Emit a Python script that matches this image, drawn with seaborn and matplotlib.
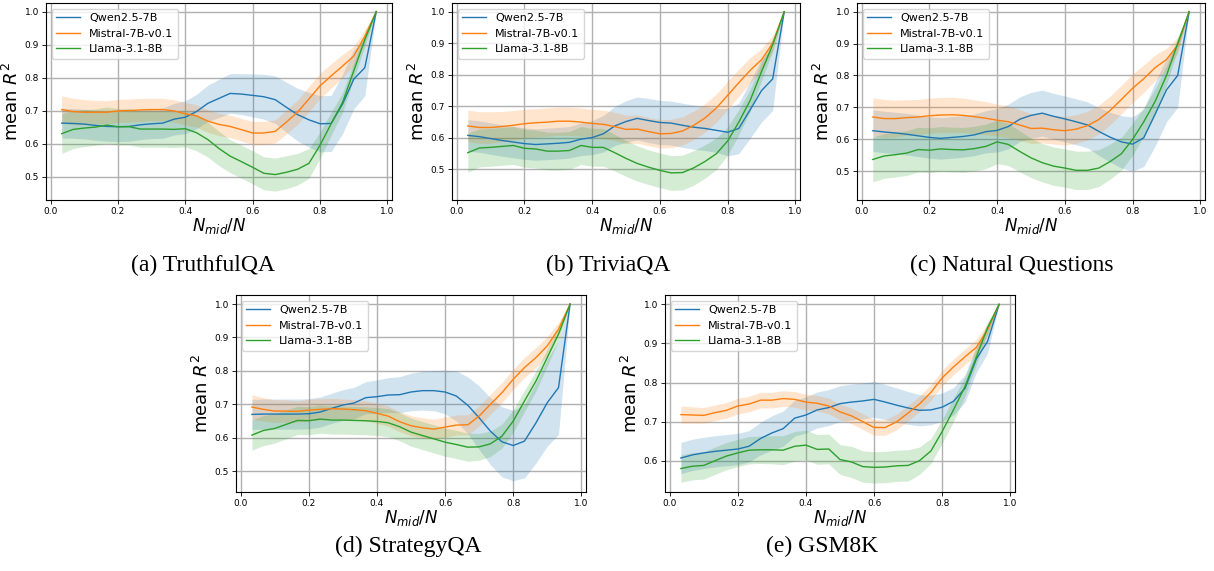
import matplotlib
matplotlib.use('Agg')
import matplotlib.pyplot as plt
import pandas as pd
import seaborn as sns

# ------------------------------------------------------------
# data: mean R^2 and std per N_mid/N, for each dataset / model
# ------------------------------------------------------------
x_ratio = [0.033, 0.067, 0.1, 0.133, 0.167, 0.2, 0.233, 0.267, 0.3, 0.333,
           0.367, 0.4, 0.433, 0.467, 0.5, 0.533, 0.567, 0.6, 0.633, 0.667,
           0.7, 0.733, 0.767, 0.8, 0.833, 0.867, 0.9, 0.933, 0.967]

models = ['Qwen2.5-7B', 'Mistral-7B-v0.1', 'Llama-3.1-8B']
colors = ['#1f77b4', '#ff7f0e', '#2ca02c']

# (a) TruthfulQA
tqa_qwen = [0.662, 0.661, 0.659, 0.655, 0.652, 0.651, 0.652, 0.657, 0.660, 0.662, 0.674, 0.680, 0.697, 0.722, 0.737,
            0.752, 0.750, 0.746, 0.742, 0.733, 0.710, 0.688, 0.672, 0.660, 0.661, 0.720, 0.795, 0.830, 1.0]
tqa_qwen_sd = [0.045, 0.045, 0.045, 0.045, 0.045, 0.045, 0.045, 0.045, 0.045, 0.046, 0.048, 0.050, 0.052, 0.055, 0.058,
               0.060, 0.062, 0.065, 0.068, 0.072, 0.076, 0.080, 0.083, 0.085, 0.085, 0.090, 0.090, 0.085, 0.0]
tqa_mistral = [0.703, 0.697, 0.695, 0.695, 0.695, 0.699, 0.700, 0.702, 0.703, 0.703, 0.699, 0.690, 0.684, 0.668, 0.658,
               0.652, 0.642, 0.632, 0.632, 0.637, 0.665, 0.695, 0.735, 0.775, 0.805, 0.835, 0.865, 0.925, 1.0]
tqa_mistral_sd = [0.042, 0.040, 0.038, 0.036, 0.035, 0.035, 0.035, 0.035, 0.034, 0.034, 0.034, 0.034, 0.034, 0.034, 0.034,
                  0.034, 0.034, 0.035, 0.035, 0.035, 0.036, 0.037, 0.038, 0.038, 0.037, 0.035, 0.030, 0.020, 0.0]
tqa_llama = [0.630, 0.643, 0.647, 0.650, 0.656, 0.651, 0.651, 0.644, 0.644, 0.644, 0.643, 0.645, 0.633, 0.612, 0.585,
             0.562, 0.545, 0.528, 0.510, 0.506, 0.513, 0.522, 0.540, 0.595, 0.660, 0.725, 0.820, 0.915, 1.0]
tqa_llama_sd = [0.060, 0.058, 0.056, 0.055, 0.055, 0.055, 0.055, 0.055, 0.055, 0.055, 0.055, 0.055, 0.055, 0.053, 0.052,
                0.050, 0.050, 0.050, 0.050, 0.050, 0.050, 0.048, 0.045, 0.040, 0.035, 0.030, 0.025, 0.020, 0.0]

# (b) TriviaQA
triv_qwen = [0.608, 0.604, 0.598, 0.592, 0.587, 0.582, 0.579, 0.581, 0.583, 0.586, 0.596, 0.601, 0.613, 0.638, 0.652,
             0.662, 0.655, 0.649, 0.647, 0.640, 0.634, 0.630, 0.624, 0.618, 0.630, 0.690, 0.750, 0.787, 1.0]
triv_qwen_sd = [0.050, 0.050, 0.050, 0.050, 0.050, 0.050, 0.050, 0.050, 0.050, 0.050, 0.052, 0.054, 0.058, 0.062, 0.066,
                0.068, 0.070, 0.070, 0.070, 0.070, 0.070, 0.070, 0.070, 0.075, 0.080, 0.090, 0.100, 0.100, 0.0]
triv_mistral = [0.638, 0.633, 0.633, 0.636, 0.640, 0.645, 0.648, 0.650, 0.653, 0.653, 0.650, 0.646, 0.643, 0.636, 0.627,
                0.628, 0.620, 0.613, 0.614, 0.622, 0.640, 0.663, 0.695, 0.735, 0.775, 0.815, 0.848, 0.900, 1.0]
triv_mistral_sd = [0.050, 0.050, 0.050, 0.048, 0.047, 0.046, 0.045, 0.045, 0.045, 0.045, 0.045, 0.045, 0.045, 0.045, 0.045,
                   0.045, 0.045, 0.045, 0.045, 0.045, 0.045, 0.045, 0.045, 0.045, 0.043, 0.040, 0.035, 0.025, 0.0]
triv_llama = [0.553, 0.568, 0.570, 0.573, 0.576, 0.567, 0.565, 0.558, 0.558, 0.560, 0.576, 0.570, 0.570, 0.553, 0.535,
              0.519, 0.507, 0.497, 0.489, 0.490, 0.505, 0.525, 0.550, 0.590, 0.650, 0.720, 0.810, 0.895, 1.0]
triv_llama_sd = [0.062, 0.060, 0.060, 0.060, 0.060, 0.060, 0.060, 0.060, 0.060, 0.060, 0.060, 0.060, 0.060, 0.058, 0.057,
                 0.056, 0.055, 0.055, 0.055, 0.055, 0.055, 0.053, 0.050, 0.045, 0.040, 0.035, 0.030, 0.020, 0.0]

# (c) Natural Questions
nq_qwen = [0.627, 0.623, 0.620, 0.616, 0.611, 0.606, 0.603, 0.606, 0.609, 0.614, 0.624, 0.628, 0.640, 0.663, 0.675,
           0.682, 0.672, 0.664, 0.655, 0.645, 0.625, 0.607, 0.592, 0.585, 0.605, 0.680, 0.755, 0.800, 1.0]
nq_qwen_sd = [0.065, 0.065, 0.065, 0.065, 0.065, 0.065, 0.065, 0.065, 0.065, 0.065, 0.066, 0.068, 0.070, 0.070, 0.072,
              0.072, 0.072, 0.072, 0.072, 0.072, 0.075, 0.078, 0.082, 0.085, 0.090, 0.100, 0.100, 0.100, 0.0]
nq_mistral = [0.670, 0.665, 0.665, 0.668, 0.670, 0.674, 0.676, 0.677, 0.675, 0.671, 0.666, 0.660, 0.655, 0.645, 0.634,
              0.635, 0.630, 0.627, 0.632, 0.643, 0.662, 0.690, 0.725, 0.760, 0.790, 0.825, 0.850, 0.895, 1.0]
nq_mistral_sd = [0.060, 0.060, 0.058, 0.056, 0.055, 0.055, 0.055, 0.055, 0.054, 0.053, 0.052, 0.050, 0.050, 0.048, 0.047,
                 0.046, 0.045, 0.045, 0.045, 0.045, 0.045, 0.045, 0.045, 0.045, 0.043, 0.040, 0.035, 0.025, 0.0]
nq_llama = [0.537, 0.548, 0.552, 0.557, 0.568, 0.566, 0.570, 0.568, 0.567, 0.571, 0.578, 0.592, 0.584, 0.562, 0.542,
            0.527, 0.516, 0.510, 0.503, 0.503, 0.510, 0.530, 0.555, 0.600, 0.655, 0.720, 0.800, 0.900, 1.0]
nq_llama_sd = [0.070, 0.070, 0.070, 0.070, 0.070, 0.070, 0.070, 0.070, 0.070, 0.070, 0.070, 0.068, 0.066, 0.064, 0.062,
               0.060, 0.060, 0.060, 0.060, 0.060, 0.058, 0.055, 0.052, 0.050, 0.045, 0.040, 0.030, 0.020, 0.0]

# (d) StrategyQA
sqa_qwen = [0.670, 0.671, 0.671, 0.671, 0.671, 0.672, 0.677, 0.688, 0.698, 0.704, 0.720, 0.723, 0.728, 0.729, 0.737,
            0.741, 0.741, 0.737, 0.725, 0.697, 0.660, 0.620, 0.588, 0.577, 0.590, 0.645, 0.705, 0.750, 1.0]
sqa_qwen_sd = [0.045, 0.045, 0.045, 0.045, 0.045, 0.045, 0.045, 0.045, 0.046, 0.047, 0.048, 0.050, 0.052, 0.054, 0.056,
               0.058, 0.060, 0.065, 0.075, 0.085, 0.095, 0.100, 0.105, 0.105, 0.110, 0.120, 0.130, 0.140, 0.0]
sqa_mistral = [0.692, 0.685, 0.680, 0.680, 0.679, 0.683, 0.685, 0.687, 0.686, 0.684, 0.681, 0.673, 0.665, 0.648, 0.636,
               0.630, 0.626, 0.632, 0.638, 0.639, 0.665, 0.700, 0.735, 0.775, 0.810, 0.840, 0.875, 0.925, 1.0]
sqa_mistral_sd = [0.037, 0.035, 0.034, 0.033, 0.032, 0.032, 0.032, 0.031, 0.030, 0.030, 0.030, 0.030, 0.030, 0.030, 0.030,
                  0.030, 0.030, 0.030, 0.030, 0.030, 0.030, 0.030, 0.030, 0.030, 0.030, 0.030, 0.028, 0.020, 0.0]
sqa_llama = [0.608, 0.622, 0.628, 0.640, 0.652, 0.651, 0.656, 0.653, 0.653, 0.652, 0.651, 0.649, 0.645, 0.633, 0.617,
             0.607, 0.597, 0.587, 0.580, 0.572, 0.573, 0.582, 0.605, 0.650, 0.710, 0.770, 0.840, 0.910, 1.0]
sqa_llama_sd = [0.045, 0.045, 0.044, 0.043, 0.042, 0.042, 0.042, 0.042, 0.042, 0.042, 0.042, 0.042, 0.042, 0.042, 0.042,
                0.042, 0.042, 0.042, 0.042, 0.042, 0.040, 0.038, 0.036, 0.034, 0.032, 0.030, 0.025, 0.020, 0.0]

# (e) GSM8K
gsm_qwen = [0.607, 0.615, 0.620, 0.624, 0.627, 0.630, 0.637, 0.657, 0.671, 0.682, 0.709, 0.717, 0.730, 0.736, 0.746,
            0.750, 0.753, 0.757, 0.750, 0.742, 0.735, 0.729, 0.730, 0.737, 0.752, 0.785, 0.860, 0.905, 1.0]
gsm_qwen_sd = [0.040, 0.040, 0.040, 0.040, 0.040, 0.040, 0.040, 0.042, 0.044, 0.045, 0.046, 0.046, 0.046, 0.046, 0.046,
               0.046, 0.046, 0.046, 0.045, 0.044, 0.042, 0.040, 0.038, 0.036, 0.035, 0.035, 0.035, 0.030, 0.0]
gsm_mistral = [0.718, 0.717, 0.716, 0.723, 0.729, 0.740, 0.745, 0.755, 0.755, 0.759, 0.757, 0.750, 0.747, 0.740, 0.725,
               0.715, 0.700, 0.685, 0.685, 0.700, 0.722, 0.745, 0.775, 0.812, 0.840, 0.866, 0.890, 0.935, 1.0]
gsm_mistral_sd = [0.022, 0.021, 0.020, 0.020, 0.020, 0.020, 0.020, 0.020, 0.020, 0.020, 0.020, 0.020, 0.020, 0.020, 0.020,
                  0.020, 0.020, 0.020, 0.020, 0.020, 0.020, 0.020, 0.020, 0.020, 0.020, 0.020, 0.020, 0.015, 0.0]
gsm_llama = [0.580, 0.586, 0.588, 0.600, 0.612, 0.620, 0.627, 0.628, 0.628, 0.627, 0.637, 0.640, 0.629, 0.630, 0.603,
             0.597, 0.585, 0.583, 0.584, 0.587, 0.588, 0.600, 0.625, 0.675, 0.730, 0.790, 0.865, 0.940, 1.0]
gsm_llama_sd = [0.035, 0.035, 0.035, 0.035, 0.035, 0.035, 0.035, 0.035, 0.036, 0.037, 0.038, 0.038, 0.038, 0.038, 0.038,
                0.040, 0.040, 0.040, 0.040, 0.040, 0.040, 0.035, 0.032, 0.030, 0.030, 0.025, 0.020, 0.015, 0.0]

panels = [
    ('(a) TruthfulQA', [tqa_qwen, tqa_mistral, tqa_llama], [tqa_qwen_sd, tqa_mistral_sd, tqa_llama_sd]),
    ('(b) TriviaQA', [triv_qwen, triv_mistral, triv_llama], [triv_qwen_sd, triv_mistral_sd, triv_llama_sd]),
    ('(c) Natural Questions', [nq_qwen, nq_mistral, nq_llama], [nq_qwen_sd, nq_mistral_sd, nq_llama_sd]),
    ('(d) StrategyQA', [sqa_qwen, sqa_mistral, sqa_llama], [sqa_qwen_sd, sqa_mistral_sd, sqa_llama_sd]),
    ('(e) GSM8K', [gsm_qwen, gsm_mistral, gsm_llama], [gsm_qwen_sd, gsm_mistral_sd, gsm_llama_sd]),
]

# ------------------------------------------------------------
# layout (pixel boxes of the 1214x571 figure)
# ------------------------------------------------------------
W, H = 1214, 571
boxes = [(46, 3, 392, 200), (452, 3, 800, 200), (857, 3, 1205, 200),
         (236, 295, 586, 492), (665, 295, 1015, 492)]
ylims = [(0.429, 1.026), (0.403, 1.028), (0.41, 1.027), (0.438, 1.027), (0.52, 1.024)]
captions_xy = [(203, 265), (608, 265), (1012, 265), (408, 546), (822, 546)]

fig = plt.figure(figsize=(W / 100, H / 100), dpi=100)

for (title, means, sds), (l, t, r, b), ylim, (cx, cy) in zip(panels, boxes, ylims, captions_xy):
    ax = fig.add_axes([l / W, 1 - b / H, (r - l) / W, (b - t) / H])

    rows = []
    for name, m in zip(models, means):
        for xv, mv in zip(x_ratio, m):
            rows.append({'ratio': xv, 'r2': mv, 'model': name})
    df = pd.DataFrame(rows)

    sns.lineplot(data=df, x='ratio', y='r2', hue='model', hue_order=models,
                 palette=colors, linewidth=1.0, ax=ax, errorbar=None)
    for name, m, s, c in zip(models, means, sds, colors):
        lo = [a - d for a, d in zip(m, s)]
        hi = [a + d for a, d in zip(m, s)]
        ax.fill_between(x_ratio, lo, hi, color=c, alpha=0.2, linewidth=0)

    ax.set_ylim(*ylim)
    ax.set_xticks([0.0, 0.2, 0.4, 0.6, 0.8, 1.0])
    ax.grid(True, color='#b0b0b0', linewidth=1.0)
    ax.set_axisbelow(True)
    ax.tick_params(labelsize=6.5, length=3, width=0.6, pad=2)
    for sp in ax.spines.values():
        sp.set_linewidth(0.8)
    ax.set_xlabel('$N_{mid}/N$', fontsize=12, labelpad=0)
    ax.set_ylabel('mean $R^2$', fontsize=13, labelpad=2)
    ax.legend(loc='upper left', fontsize=8, handlelength=2.2)

    fig.text(cx / W, 1 - cy / H, title, ha='center', va='center',
             family='Liberation Serif', fontsize=17)

plt.savefig('out.png', dpi=100)
